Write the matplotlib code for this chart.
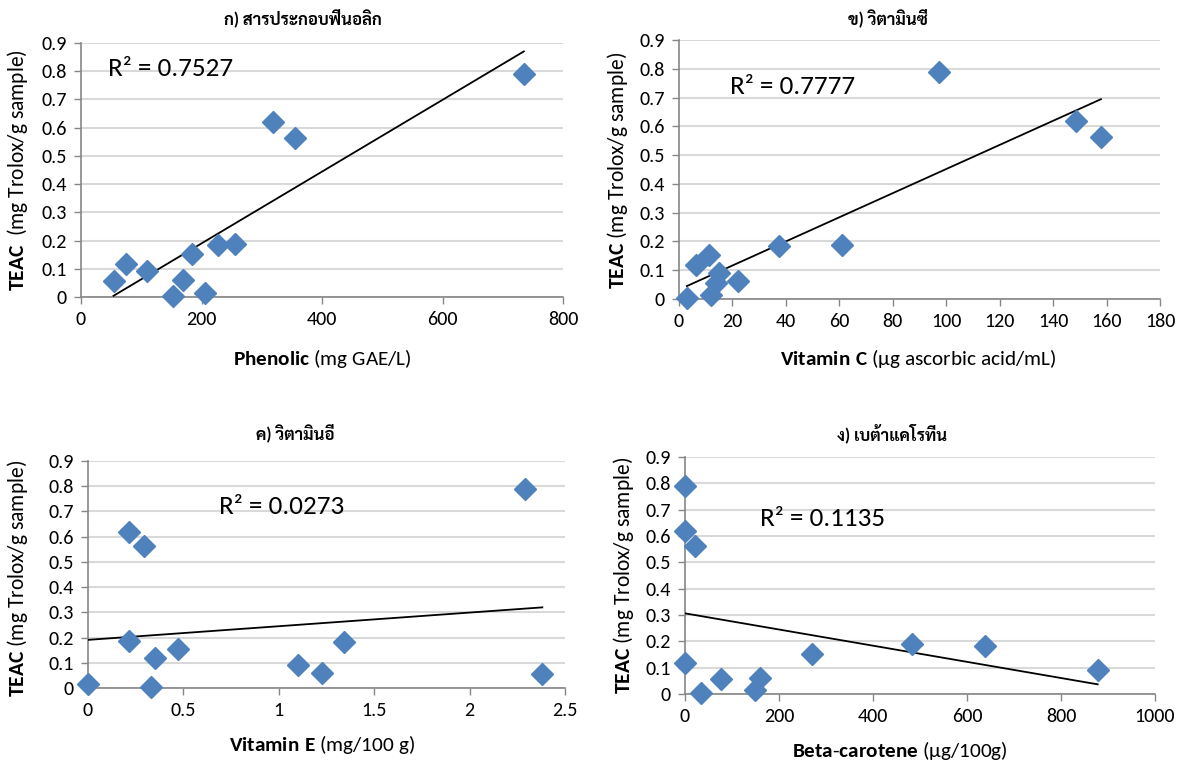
import matplotlib
matplotlib.use("Agg")
import matplotlib.pyplot as plt
from matplotlib import font_manager as fm
import numpy as np

# ---------------- data ----------------
teac = [0.005, 0.014, 0.057, 0.061, 0.091, 0.118, 0.153, 0.184, 0.188, 0.562, 0.620, 0.790]
phenolic = [153, 206, 54, 169, 110, 75, 185, 228, 255, 356, 318, 735]
vitamin_c = [2.95, 12.0, 13.8, 22.2, 14.8, 6.3, 11.25, 37.3, 60.9, 157.9, 148.5, 97.3]
vitamin_e = [0.332, 0.0, 2.381, 1.229, 1.101, 0.352, 0.470, 1.342, 0.217, 0.292, 0.213, 2.292]
beta_carotene = [35, 149, 77, 160, 878, 0, 271, 639, 482, 21, 0, 0]

titles = ["ก) สารประกอบฟีนอลิก", "ข) วิตามินซี", "ค) วิตามินอี", "ง) เบต้าแคโรทีน"]
r2_labels = ["R² = 0.7527", "R² = 0.7777", "R² = 0.0273", "R² = 0.1135"]
x_bold = ["Phenolic", "Vitamin\\ C", "Vitamin\\ E", None]
x_rest = [" (mg GAE/L)", " (µg ascorbic acid/mL)", " (mg/100 g)", " (µg/100g)"]
y_labels = [r"$\bf{TEAC}$  (mg Trolox/g sample)", r"$\bf{TEAC}$ (mg Trolox/g sample)",
            r"$\bf{TEAC}$ (mg Trolox/g sample)", r"$\bf{TEAC}$ (mg Trolox/g sample)"]
x_ticks = [[0, 200, 400, 600, 800],
           [0, 20, 40, 60, 80, 100, 120, 140, 160, 180],
           [0, 0.5, 1, 1.5, 2, 2.5],
           [0, 200, 400, 600, 800, 1000]]
x_tick_labels = [["0", "200", "400", "600", "800"],
                 ["0", "20", "40", "60", "80", "100", "120", "140", "160", "180"],
                 ["0", "0.5", "1", "1.5", "2", "2.5"],
                 ["0", "200", "400", "600", "800", "1000"]]
y_ticks = [0, 0.1, 0.2, 0.3, 0.4, 0.5, 0.6, 0.7, 0.8, 0.9]
y_tick_labels = ["0", "0.1", "0.2", "0.3", "0.4", "0.5", "0.6", "0.7", "0.8", "0.9"]
x_series = [phenolic, vitamin_c, vitamin_e, beta_carotene]

# ---------------- fonts ----------------
def first_font(names):
    for n in names:
        try:
            fm.findfont(fm.FontProperties(family=n), fallback_to_default=False)
            return n
        except Exception:
            pass
    return "DejaVu Sans"

latin = first_font(["Carlito", "Lato", "Open Sans"])
thai = first_font(["Sarabun", "Noto Sans Thai", "Athiti"])
plt.rcParams["font.family"] = [latin, thai, "DejaVu Sans"]
plt.rcParams["mathtext.fontset"] = "custom"
plt.rcParams["mathtext.rm"] = latin
plt.rcParams["mathtext.bf"] = latin + ":bold"
plt.rcParams["mathtext.it"] = latin + ":italic"

W, H = 1181, 771
fig = plt.figure(figsize=(W / 100, H / 100), dpi=100)

def px(x, y):
    return x / W, 1 - y / H

# axes boxes in pixels: left, top, right, bottom
boxes = [(81, 43, 563, 297), (679, 40, 1160, 299), (88, 461, 565, 688), (685, 457, 1155, 694)]
title_pos = [(303, 18), (888, 18), (295, 433), (892, 433)]
ylab_pos = [(18, 170), (617, 170), (18, 578), (624, 575)]
xlab_pos = [(322, 358), (918, 358), (322, 745), (900, 750)]
r2_pos = [(108, 68), (730, 87), (219, 507), (760, 519)]

grid_c = "#D9D9D9"
axis_c = "#868686"
marker_c = "#4F81BD"

for i in range(4):
    l, t, r, b = boxes[i]
    ax = fig.add_axes([l / W, 1 - b / H, (r - l) / W, (b - t) / H])
    x = np.array(x_series[i], dtype=float)
    y = np.array(teac, dtype=float)
    ax.set_xlim(x_ticks[i][0], x_ticks[i][-1])
    ax.set_ylim(0, 0.9)
    ax.set_xticks(x_ticks[i])
    ax.set_xticklabels(x_tick_labels[i])
    ax.set_yticks(y_ticks)
    ax.set_yticklabels(y_tick_labels)
    for s in ["top", "right"]:
        ax.spines[s].set_visible(False)
    for s in ["left", "bottom"]:
        ax.spines[s].set_color(axis_c)
        ax.spines[s].set_linewidth(1.2)
    ax.tick_params(axis="both", direction="out", length=5, width=1, color=axis_c,
                   labelsize=14.5, labelcolor="#000000", pad=5)
    ax.yaxis.grid(True, color=grid_c, linewidth=1.5)
    ax.set_axisbelow(True)
    # trendline from least-squares fit
    k, c0 = np.polyfit(x, y, 1)
    xs = np.array([x.min(), x.max()])
    ax.plot(xs, k * xs + c0, color="black", linewidth=1.3, zorder=3)
    ax.plot(x, y, linestyle="none", marker="D", markersize=11, color=marker_c,
            markeredgecolor=marker_c, clip_on=False, zorder=4)
    # texts
    fig.text(*px(*title_pos[i]), titles[i], ha="center", va="center", fontsize=12,
             fontweight="bold")
    fig.text(*px(*ylab_pos[i]), y_labels[i], ha="center", va="center", rotation=90,
             fontsize=15.5)
    if x_bold[i] is None:
        xl = r"$\bf{Beta}$-$\bf{carotene}$" + x_rest[i]
    else:
        xl = r"$\bf{" + x_bold[i] + "}$" + x_rest[i]
    fig.text(*px(*xlab_pos[i]), xl, ha="center", va="center", fontsize=15.3)
    fig.text(*px(*r2_pos[i]), r2_labels[i], ha="left", va="center", fontsize=19.5)

fig.savefig("out.png", dpi=100)
